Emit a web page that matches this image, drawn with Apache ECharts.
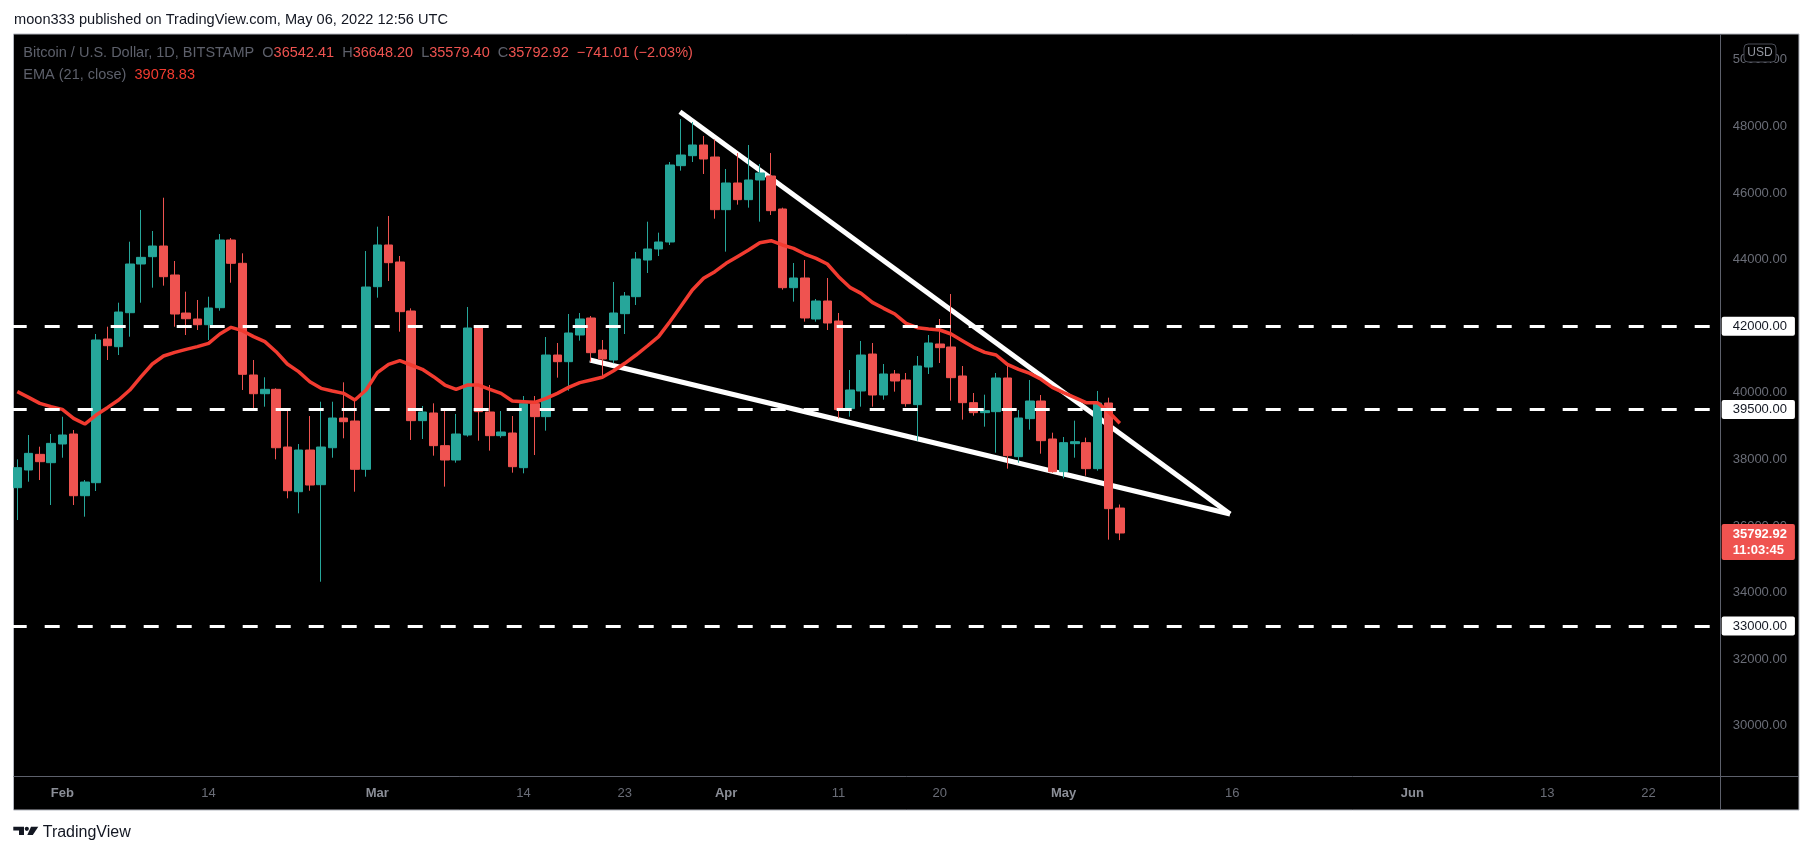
<!DOCTYPE html>
<html><head><meta charset="utf-8">
<script src="https://cdn.jsdelivr.net/npm/echarts@6/dist/echarts.min.js"></script>
<style>html,body{margin:0;padding:0;background:#fff;}#c{width:1813px;height:855px;}</style>
</head><body><div id="c"></div>
<script>
// ---------- data ----------
const startDate = '2022-01-28';
const dayCount = 152; // axis runs Jan 28 .. Jun 28, 2022
// [open, close, low, high], Jan 28 .. May 6
const ohlc = [
 [37154,37755,36183,38005],[37685,38185,37334,38736],[38155,37935,37384,38385],[37905,38485,36634,38766],
 [38466,38736,38054,39285],[38766,36913,36634,38886],[36913,37324,36283,37384],[37304,41589,37054,41769],
 [41619,41418,40988,41988],[41388,42429,41138,42709],[42409,43871,41688,44541],[43871,44071,42709,45493],
 [44091,44411,43160,44862],[44411,43490,43220,45862],[43541,42369,41988,43961],[42399,42228,41739,43040],
 [42219,42048,41889,42790],[42048,42549,41589,42889],[42559,44592,42469,44772],[44592,43892,43310,44650],
 [43892,40559,40088,44192],[40538,39976,39466,40988],[39976,40108,39586,40469],[40108,38354,38006,40138],
 [38375,37063,36835,39487],[37033,38285,36384,38465],[38285,37234,37063,39306],[37244,38375,34330,39736],
 [38354,39246,38054,39736],[39246,39135,38637,40318],[39156,37706,37033,39766],[37706,43180,37484,44261],
 [43190,44442,42860,44992],[44442,43911,43361,45313],[43931,42440,41839,44111],[42460,39167,38586,42540],
 [39167,39427,38616,39607],[39397,38416,38115,39687],[38416,37985,37185,39537],[37985,38766,37905,39367],
 [38736,41949,38686,42580],[41949,39437,38566,42029],[39427,38716,38266,40238],[38716,38826,38656,39457],
 [38796,37785,37605,39306],[37755,39677,37585,39907],[39677,39287,38135,39907],[39287,41138,38866,41679],
 [41138,40938,40458,41499],[40938,41799,40067,42370],[41739,42220,41569,42400],[42250,41208,40938,42310],
 [41288,41018,40508,41589],[40988,42400,40888,43331],[42380,42910,41769,43030],[42890,44021,42640,44231],
 [43991,44322,43601,45142],[44322,44532,44111,44812],[44532,46844,44442,46934],[46824,47144,46674,48225],
 [47124,47445,46934,48135],[47445,47024,46574,47715],[47084,45503,45232,47615],[45503,46304,44242,46724],
 [46304,45803,45653,47204],[45803,46394,45563,47445],[46394,46604,45143,46874],[46514,45473,45343,47204],
 [45523,43160,43100,45563],[43160,43451,42740,43901],[43451,42250,42140,43991],[42220,42760,42140,42820],
 [42760,42099,41889,43451],[42159,39497,39237,42400],[39527,40088,39287,40688],[40058,41138,39587,41559],
 [41168,39937,39587,41499],[39937,40568,39797,40868],[40568,40358,40038,40688],[40388,39677,39587,40598],
 [39647,40808,38566,41108],[40778,41499,40568,41739],[41469,41359,40898,42220],[41379,40458,39767,42970],
 [40508,39707,39197,40808],[39707,39407,39317,39997],[39407,39467,38986,39947],[39437,40448,38206,40598],
 [40448,38115,37725,40808],[38085,39247,37905,39487],[39227,39757,38896,40388],[39757,38566,38175,39937],
 [38616,37635,37605,38806],[37635,38506,37435,38676],[38476,38536,38055,39167],[38506,37725,37515,38656],
 [37725,39697,37665,40058],[39697,36524,35593,39857],[36542.41,35792.92,35579.40,36648.20]
];
// EMA(21, close), Jan 28 .. May 6
const ema21 = [
 40037,39867,39687,39587,39507,39236,39066,39336,39557,39787,40087,40488,40868,41108,41218,41308,41389,
 41489,41769,41969,41869,41689,41539,41238,40868,40638,40337,40137,40057,39987,39787,40087,40608,
 40858,40968,40838,40708,40488,40237,40107,40237,40237,40107,39987,39757,39737,39717,39837,39987,40167,
 40308,40388,40468,40668,40888,41138,41409,41689,42139,42610,43090,43441,43641,43891,44092,44292,
 44512,44572,44442,44342,44171,44041,43871,43491,43170,42990,42720,42540,42370,42089,41959,41919,41889,
 41769,41569,41369,41218,41138,40858,40708,40588,40408,40167,40007,39857,39707,39707,39437,39087
];
const tickLabels = [
 ['2022-02-01','Feb'],['2022-02-14','14'],['2022-03-01','Mar'],['2022-03-14','14'],['2022-03-23','23'],
 ['2022-04-01','Apr'],['2022-04-11','11'],['2022-04-20','20'],['2022-05-01','May'],['2022-05-16','16'],
 ['2022-06-01','Jun'],['2022-06-13','13'],['2022-06-22','22']
];
const priceTicks = [30000,32000,34000,36000,38000,40000,42000,44000,46000,48000,50000];
const levels = [42000, 39500, 33000];
// trend lines: [day index from Jan 28, price]
const upperTrend = [[58.9, 48444], [107.8, 36363]];
const lowerTrend = [[50.9, 40988], [107.8, 36363]];
const lastPrice = 35792.92;
const lastTimer = '11:03:45';
const priceMin = 28496, priceMax = 50778;

// ---------- build ----------
const dates = [];
{
  const d0 = new Date(startDate + 'T00:00:00Z');
  for (let i = 0; i < dayCount; i++) {
    const d = new Date(d0.getTime() + i * 86400000);
    dates.push(d.toISOString().slice(0, 10));
  }
}
const tickMap = {};
tickLabels.forEach(([d, t]) => tickMap[d] = t);

const FONT = 'Liberation Sans, Arial, sans-serif';
const UP = '#26a69a', DOWN = '#ef5350';

const chart = echarts.init(document.getElementById('c'));
const W = 1813, H = 855;
const plotL = 11.7, plotR = 1721.7, plotT = 34, plotB = 776;

const levelLines = levels.map(v => ({
  yAxis: v,
  lineStyle: {color: '#ffffff', width: 3, type: [15, 18]},
  label: {
    show: true, position: 'end', distance: 0, formatter: v.toFixed(2),
    color: '#131722', backgroundColor: '#ffffff', fontFamily: FONT, fontSize: 13,
    lineHeight: 15, padding: [2, 8, 2, 11], borderRadius: 2
  }
}));
levelLines.push({
  yAxis: lastPrice,
  lineStyle: {color: 'rgba(0,0,0,0)', width: 1, type: 'solid'},
  label: {
    show: true, position: 'end', distance: 0, formatter: lastPrice.toFixed(2) + '\n' + lastTimer,
    color: '#ffffff', backgroundColor: DOWN, fontFamily: FONT, fontSize: 13, fontWeight: 'bold',
    lineHeight: 16, padding: [2, 8, 2, 11], borderRadius: 2, offset: [0, 9]
  }
});

chart.setOption({
  animation: false,
  backgroundColor: '#ffffff',
  grid: {left: plotL, right: W - plotR, top: plotT, bottom: H - plotB, containLabel: false},
  xAxis: [{
    type: 'category', data: dates, boundaryGap: true,
    axisLine: {show: false}, axisTick: {show: false}, splitLine: {show: false},
    axisLabel: {
      interval: (i, v) => tickMap[v] !== undefined,
      formatter: v => {
        const t = tickMap[v] || '';
        return /^[A-Z]/.test(t) ? '{m|' + t + '}' : '{d|' + t + '}';
      },
      margin: 11,
      rich: {
        m: {color: '#8b8e97', fontSize: 13, fontFamily: FONT, fontWeight: 'bold'},
        d: {color: '#6a6d77', fontSize: 13, fontFamily: FONT}
      }
    }
  }, {
    type: 'value', show: false, min: -0.5, max: dayCount - 0.5
  }],
  yAxis: {
    type: 'value', position: 'right', min: priceMin, max: priceMax, scale: true,
    axisLine: {show: false}, axisTick: {show: false}, splitLine: {show: false},
    axisLabel: {
      customValues: priceTicks, formatter: v => v.toFixed(2),
      color: '#6a6d77', fontSize: 13, fontFamily: FONT, margin: 11
    }
  },
  series: [
    {
      type: 'line', name: 'upper', xAxisIndex: 1, data: upperTrend, symbol: 'none', z: 1,
      lineStyle: {color: '#ffffff', width: 5}, silent: true,
      markLine: {symbol: ['none', 'none'], silent: true, animation: false, data: levelLines}
    },
    {
      type: 'line', name: 'lower', xAxisIndex: 1, data: lowerTrend, symbol: 'none', z: 1,
      lineStyle: {color: '#ffffff', width: 5}, silent: true
    },
    {
      type: 'candlestick', name: 'BTCUSD', data: ohlc, z: 2, barWidth: 9,
      itemStyle: {color: UP, color0: DOWN, borderColor: UP, borderColor0: DOWN, borderWidth: 1}
    },
    {
      type: 'line', name: 'EMA', data: ema21, symbol: 'none', z: 3,
      lineStyle: {color: '#f23b30', width: 3.5}
    }
  ],
  graphic: [
    {type: 'rect', z: -10, shape: {x: 13.5, y: 34, width: 1785.5, height: 776},
     style: {fill: '#000000', stroke: '#b2b5be', lineWidth: 1}},
    {type: 'line', z: 50, shape: {x1: 1720.5, y1: 34, x2: 1720.5, y2: 810}, style: {stroke: '#5d606b', lineWidth: 1}},
    {type: 'line', z: 50, shape: {x1: 13.5, y1: 776.5, x2: 1799, y2: 776.5}, style: {stroke: '#5d606b', lineWidth: 1}},
    {type: 'text', z: 50, style: {text: 'moon333 published on TradingView.com, May 06, 2022 12:56 UTC',
      x: 14, y: 20, fill: '#131722', font: '14.6px ' + FONT, textVerticalAlign: 'middle'}},
    {type: 'text', z: 50, style: {
      text: '{g|Bitcoin / U.S. Dollar, 1D, BITSTAMP}  {g|O}{r|36542.41}  {g|H}{r|36648.20}  {g|L}{r|35579.40}  {g|C}{r|35792.92}  {r|\u2212741.01 (\u22122.03%)}',
      x: 23.3, y: 53.3, textVerticalAlign: 'middle', font: '14.5px ' + FONT,
      rich: {g: {fill: '#5d606b', font: '14.5px ' + FONT}, r: {fill: '#ef5350', font: '14.5px ' + FONT}}}},
    {type: 'text', z: 50, style: {
      text: '{g|EMA (21, close)}  {r|39078.83}',
      x: 23.3, y: 75, textVerticalAlign: 'middle', font: '14.5px ' + FONT,
      rich: {g: {fill: '#5d606b', font: '14.5px ' + FONT}, r: {fill: '#f23b30', font: '14.5px ' + FONT}}}},
    {type: 'rect', z: 60, shape: {x: 1744, y: 44, width: 32, height: 18, r: 4},
     style: {fill: '#000000', stroke: '#4a4d57', lineWidth: 1}},
    {type: 'text', z: 61, style: {text: 'USD', x: 1760, y: 53, textAlign: 'center', textVerticalAlign: 'middle',
      fill: '#9598a1', font: '12px ' + FONT}},
    // TradingView logo
    {type: 'polygon', z: 50, shape: {points: [[13.3,826.7],[24,826.7],[24,835],[19,835],[19,830.5],[13.3,830.5]]}, style: {fill: '#131722'}},
    {type: 'circle', z: 50, shape: {cx: 26.8, cy: 828.8, r: 2.1}, style: {fill: '#131722'}},
    {type: 'polygon', z: 50, shape: {points: [[31,826.7],[38.3,826.7],[32.8,835],[27.3,835]]}, style: {fill: '#131722'}},
    {type: 'text', z: 50, style: {text: 'TradingView', x: 42.7, y: 833, textVerticalAlign: 'middle',
      fill: '#131722', font: '16px ' + FONT}}
  ]
});
</script></body></html>
